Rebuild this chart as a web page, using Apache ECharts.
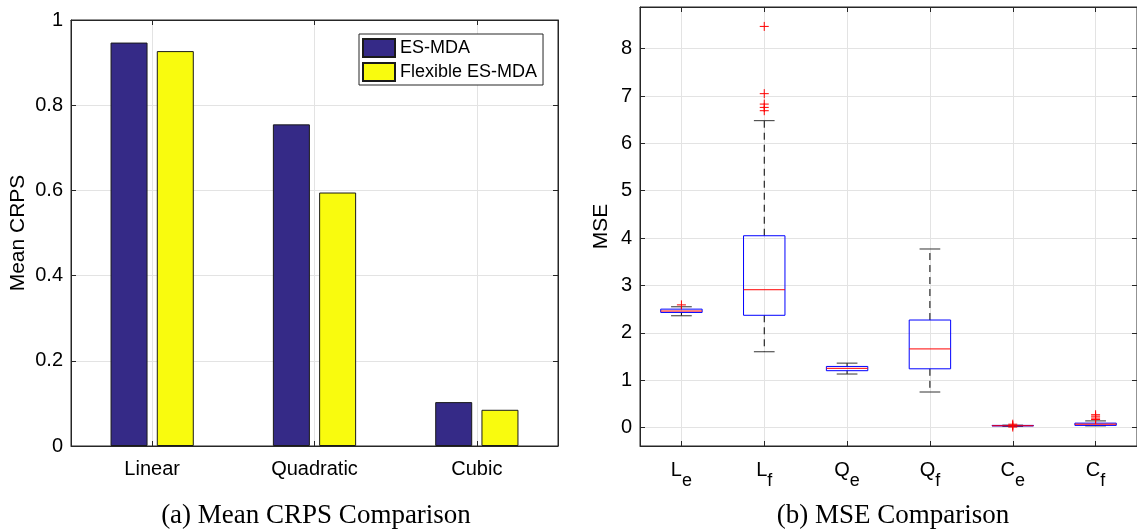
<!DOCTYPE html>
<html>
<head>
<meta charset="utf-8">
<script src="https://cdn.jsdelivr.net/npm/echarts@6/dist/echarts.min.js"></script>
<style>
  html, body { margin: 0; padding: 0; background: #fff; }
  #main { width: 1137px; height: 530px; }
</style>
</head>
<body>
<div id="main"></div>
<script>
// (a) mean CRPS
const methods = ['Linear', 'Quadratic', 'Cubic'];
const crpsEsmda = [0.947, 0.755, 0.103];
const crpsFlexible = [0.927, 0.595, 0.085];

// (b) MSE boxplots
const boxLabels = [['L', 'e'], ['L', 'f'], ['Q', 'e'], ['Q', 'f'], ['C', 'e'], ['C', 'f']];
// lower whisker, q1, median, q3, upper whisker
const boxStats = [
  [2.36, 2.43, 2.46, 2.50, 2.55],
  [1.60, 2.37, 2.91, 4.05, 6.48],
  [1.13, 1.20, 1.25, 1.29, 1.36],
  [0.75, 1.24, 1.66, 2.27, 3.77],
  [0.025, 0.033, 0.038, 0.045, 0.05],
  [0.035, 0.045, 0.07, 0.093, 0.14]
];
// [box position, value]
const outliers = [
  [1, 2.59],
  [2, 8.47], [2, 7.05], [2, 6.83], [2, 6.76], [2, 6.69],
  [5, 0.01], [5, 0.04], [5, 0.07],
  [6, 0.17], [6, 0.2], [6, 0.24], [6, 0.27]
];
const mseTicks = [0, 1, 2, 3, 4, 5, 6, 7, 8];

const sans = 'Liberation Sans, Arial, Helvetica, sans-serif';
const serifFont = '27px "Liberation Serif", "Times New Roman", serif';
const axisColor = '#262626';
const gridColor = '#e3e3e3';

const chart = echarts.init(document.getElementById('main'));

function renderBox(params, api) {
  const x = api.value(0);
  const half = api.size([1, 0])[0] * 0.25;
  const cap = half / 2;
  const lo = api.coord([x, api.value(1)]);
  const q1 = api.coord([x, api.value(2)]);
  const med = api.coord([x, api.value(3)]);
  const q3 = api.coord([x, api.value(4)]);
  const hi = api.coord([x, api.value(5)]);
  const cx = med[0];
  const dash = { stroke: '#000', lineWidth: 1, lineDash: [7, 5] };
  const solid = { stroke: '#333', lineWidth: 1 };
  return {
    type: 'group',
    children: [
      { type: 'line', shape: { x1: cx, y1: q3[1], x2: cx, y2: hi[1] }, style: dash },
      { type: 'line', shape: { x1: cx, y1: q1[1], x2: cx, y2: lo[1] }, style: dash },
      { type: 'line', shape: { x1: cx - cap, y1: hi[1], x2: cx + cap, y2: hi[1] }, style: solid },
      { type: 'line', shape: { x1: cx - cap, y1: lo[1], x2: cx + cap, y2: lo[1] }, style: solid },
      { type: 'rect', shape: { x: cx - half, y: q3[1], width: half * 2, height: q1[1] - q3[1] },
        style: { fill: 'none', stroke: '#0000ff', lineWidth: 1 } },
      { type: 'line', shape: { x1: cx - half, y1: med[1], x2: cx + half, y2: med[1] },
        style: { stroke: '#ff0000', lineWidth: 1 } }
    ]
  };
}

function renderCross(params, api) {
  const p = api.coord([api.value(0), api.value(1)]);
  const s = 4.5;
  const st = { stroke: '#ff0000', lineWidth: 1 };
  return {
    type: 'group',
    children: [
      { type: 'line', shape: { x1: p[0] - s, y1: p[1], x2: p[0] + s, y2: p[1] }, style: st },
      { type: 'line', shape: { x1: p[0], y1: p[1] - s, x2: p[0], y2: p[1] + s }, style: st }
    ]
  };
}

const tickStyle = { show: true, inside: true, length: 5, lineStyle: { color: axisColor } };
const lineStyle = { show: true, onZero: false, lineStyle: { color: axisColor, width: 1 } };

const option = {
  animation: false,
  textStyle: { fontFamily: sans },
  grid: [
    { left: 71, top: 20, width: 487, height: 426, show: true, borderColor: axisColor, borderWidth: 1 },
    { left: 640, top: 7, width: 502, height: 439, show: true, borderColor: axisColor, borderWidth: 1 }
  ],
  legend: {
    data: ['ES-MDA', 'Flexible ES-MDA'],
    orient: 'vertical',
    left: 359,
    top: 34,
    padding: [4, 6, 3, 3],
    itemGap: 4,
    itemWidth: 32,
    itemHeight: 18,
    icon: 'rect',
    backgroundColor: '#fff',
    borderColor: axisColor,
    borderWidth: 1,
    textStyle: { fontSize: 18, color: '#000', fontFamily: sans }
  },
  xAxis: [
    {
      gridIndex: 0, type: 'category', data: methods, position: 'bottom',
      axisLine: lineStyle,
      axisTick: Object.assign({ alignWithLabel: true }, tickStyle),
      axisLabel: { fontSize: 20, color: '#000', margin: 13 },
      splitLine: { show: false }
    },
    {
      gridIndex: 0, type: 'value', position: 'top', min: 0.5, max: 3.5,
      axisLine: lineStyle,
      axisTick: Object.assign({ customValues: [1, 2, 3] }, tickStyle),
      axisLabel: { show: false, customValues: [1, 2, 3] },
      splitLine: { show: true, lineStyle: { color: gridColor } }
    },
    {
      gridIndex: 1, type: 'value', position: 'bottom', min: 0.5, max: 6.5,
      axisLine: lineStyle,
      axisTick: Object.assign({ customValues: [1, 2, 3, 4, 5, 6] }, tickStyle),
      axisLabel: {
        customValues: [1, 2, 3, 4, 5, 6],
        margin: 14,
        color: '#000',
        formatter: function (v) {
          const l = boxLabels[Math.round(v) - 1];
          return '{b|' + l[0] + '}{s|' + l[1] + '}';
        },
        rich: {
          b: { fontSize: 20, lineHeight: 23, verticalAlign: 'top', color: '#000', fontFamily: sans },
          s: { fontSize: 18, lineHeight: 20, padding: [12, 0, 0, 0], verticalAlign: 'top', color: '#000', fontFamily: sans }
        }
      },
      splitLine: { show: true, lineStyle: { color: gridColor } }
    },
    {
      gridIndex: 1, type: 'value', position: 'top', min: 0.5, max: 6.5,
      axisLine: lineStyle,
      axisTick: Object.assign({ customValues: [1, 2, 3, 4, 5, 6] }, tickStyle),
      axisLabel: { show: false },
      splitLine: { show: false }
    }
  ],
  yAxis: [
    {
      gridIndex: 0, type: 'value', min: 0, max: 1, interval: 0.2, position: 'left',
      name: 'Mean CRPS', nameLocation: 'middle', nameGap: 42,
      nameTextStyle: { fontSize: 21, color: '#000' },
      axisLine: lineStyle, axisTick: tickStyle,
      axisLabel: { fontSize: 20, color: '#000', margin: 8 },
      splitLine: { show: true, lineStyle: { color: gridColor } }
    },
    {
      gridIndex: 0, type: 'value', min: 0, max: 1, interval: 0.2, position: 'right',
      axisLine: lineStyle, axisTick: tickStyle,
      axisLabel: { show: false }, splitLine: { show: false }
    },
    {
      gridIndex: 1, type: 'value', min: -0.39, max: 8.88, position: 'left',
      name: 'MSE', nameLocation: 'middle', nameGap: 28,
      nameTextStyle: { fontSize: 21, color: '#000' },
      axisLine: lineStyle,
      axisTick: Object.assign({ customValues: mseTicks }, tickStyle),
      axisLabel: { customValues: mseTicks, fontSize: 20, color: '#000', margin: 8 },
      splitLine: { show: true, lineStyle: { color: gridColor } }
    },
    {
      gridIndex: 1, type: 'value', min: -0.39, max: 8.88, position: 'right',
      axisLine: lineStyle,
      axisTick: Object.assign({ customValues: mseTicks }, tickStyle),
      axisLabel: { show: false }, splitLine: { show: false }
    }
  ],
  series: [
    {
      name: 'ES-MDA', type: 'bar', xAxisIndex: 0, yAxisIndex: 0,
      data: crpsEsmda, barWidth: 37, barGap: '25%',
      itemStyle: { color: '#352a87', borderColor: '#1a1a1a', borderWidth: 1 }
    },
    {
      name: 'Flexible ES-MDA', type: 'bar', xAxisIndex: 0, yAxisIndex: 0,
      data: crpsFlexible, barWidth: 37, barGap: '25%',
      itemStyle: { color: '#f9fb0e', borderColor: '#1a1a1a', borderWidth: 1 }
    },
    {
      type: 'custom', xAxisIndex: 2, yAxisIndex: 2,
      renderItem: renderBox,
      encode: { x: 0, y: [1, 2, 3, 4, 5] },
      data: boxStats.map(function (s, i) { return [i + 1].concat(s); }),
      z: 3
    },
    {
      type: 'custom', xAxisIndex: 2, yAxisIndex: 2,
      renderItem: renderCross,
      encode: { x: 0, y: 1 },
      data: outliers,
      z: 4
    }
  ],
  graphic: [
    {
      type: 'text', x: 316, y: 516,
      style: { text: '(a) Mean CRPS Comparison', font: serifFont,
        fill: '#000', align: 'center', verticalAlign: 'middle' }
    },
    {
      type: 'text', x: 893, y: 516,
      style: { text: '(b) MSE Comparison', font: serifFont,
        fill: '#000', align: 'center', verticalAlign: 'middle' }
    }
  ]
};

chart.setOption(option);
</script>
</body>
</html>
